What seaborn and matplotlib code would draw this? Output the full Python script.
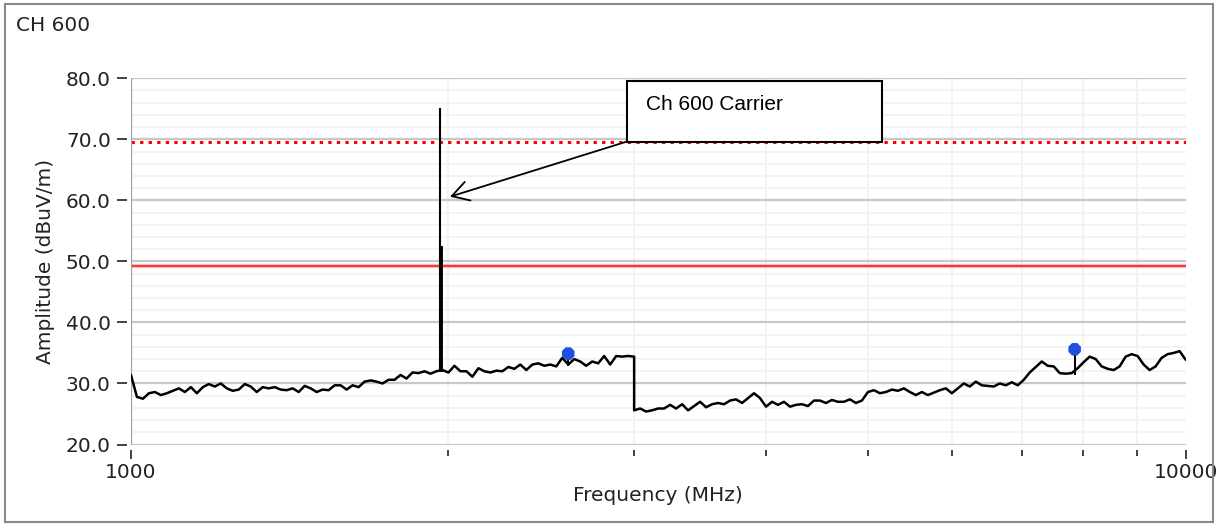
import numpy as np
import pandas as pd
import matplotlib
matplotlib.use('Agg')
import matplotlib.pyplot as plt
import matplotlib.ticker as mticker
from matplotlib.patches import Rectangle
import seaborn as sns

sns.set_style('white')
plt.rcParams['font.family'] = ['DejaVu Sans']

# sweep 1000-3000 MHz (dBuV/m)
low_amp = [31.4, 27.8, 27.5, 28.4, 28.6, 28.1, 28.4, 28.8, 29.2, 28.6,
           29.4, 28.4, 29.4, 29.9, 29.5, 30.0, 29.2, 28.8, 29.0, 29.9,
           29.5, 28.6, 29.4, 29.2, 29.4, 29.0, 28.9, 29.2, 28.6, 29.6,
           29.2, 28.6, 29.0, 28.9, 29.7, 29.7, 29.0, 29.7, 29.4, 30.3,
           30.5, 30.3, 30.0, 30.6, 30.6, 31.4, 30.8, 31.8, 31.7, 32.0,
           31.6, 32.0, 32.2, 31.8, 32.9, 32.0, 32.0, 31.1, 32.5, 32.0,
           31.8, 32.1, 32.0, 32.7, 32.4, 33.1, 32.2, 33.1, 33.3, 32.9,
           33.1, 32.8, 34.2, 33.1, 34.0, 33.6, 32.9, 33.6, 33.3, 34.5,
           33.1, 34.5, 34.4, 34.5, 34.4]
# sweep 3000-10000 MHz
high_amp = [25.6, 25.9, 25.4, 25.6, 25.9, 25.9, 26.5, 25.9, 26.6, 25.6,
            26.3, 27.0, 26.1, 26.6, 26.8, 26.6, 27.2, 27.4, 26.8, 27.6,
            28.4, 27.6, 26.2, 27.0, 26.5, 27.0, 26.2, 26.5, 26.6, 26.3,
            27.2, 27.2, 26.8, 27.3, 27.0, 27.0, 27.4, 26.8, 27.2, 28.6,
            28.9, 28.4, 28.6, 29.0, 28.8, 29.2, 28.6, 28.1, 28.6, 28.1,
            28.5, 28.9, 29.2, 28.4, 29.2, 30.0, 29.5, 30.3, 29.7, 29.6,
            29.5, 30.0, 29.7, 30.2, 29.7, 30.6, 31.8, 32.7, 33.6, 32.9,
            32.8, 31.7, 31.6, 31.7, 32.5, 33.5, 34.4, 34.0, 32.8, 32.4,
            32.2, 32.8, 34.4, 34.8, 34.5, 33.1, 32.2, 32.8, 34.2, 34.8,
            35.0, 35.3, 33.9]

carrier_freq = [1962, 1966]
carrier_base = [31.8, 31.8]
carrier_amp = [75.2, 52.6]

marker_freq = [2598, 7849]
marker_base = [32.8, 31.4]
marker_amp = [34.9, 35.6]

limit_peak = 69.5
limit_avg = 49.3

y_ticks = [20, 30, 40, 50, 60, 70, 80]
x_major = [1000, 10000]
x_minor = [2000, 3000, 4000, 5000, 6000, 7000, 8000, 9000]

low_freq = np.geomspace(1000, 3000, len(low_amp))
high_freq = np.geomspace(3000, 10000, len(high_amp))
trace = pd.DataFrame({
    'Frequency': np.concatenate([low_freq, high_freq]),
    'Amplitude': np.concatenate([low_amp, high_amp]),
})

fig = plt.figure(figsize=(12.17, 5.24), dpi=100)
ax = fig.add_axes([0.1076, 0.1517, 0.8666, 0.6989])
ax.set_xscale('log')

# grid
ax.set_yticks(y_ticks)
ax.yaxis.set_minor_locator(mticker.MultipleLocator(2))
ax.grid(True, which='major', axis='y', color='#C8C8C8', lw=1.6, zorder=0)
ax.grid(True, which='minor', axis='y', color='#F3F3F3', lw=1.4, zorder=0)
ax.xaxis.set_major_locator(mticker.FixedLocator(x_major))
ax.xaxis.set_minor_locator(mticker.FixedLocator(x_minor))
ax.grid(True, which='minor', axis='x', color='#F3F3F3', lw=1.4, zorder=0)

# limit lines
ax.axhline(limit_peak, color='#FF0000', lw=2.2, ls=(0, (1.1, 1.7)),
           dash_capstyle='butt', zorder=2)
ax.axhline(limit_avg, color='#FFC8C8', lw=3.2, zorder=2)
ax.axhline(limit_avg, color='#F03C3C', lw=1.6, zorder=2)

sns.lineplot(data=trace, x='Frequency', y='Amplitude', estimator=None,
             sort=False, color='black', lw=1.8, ax=ax, zorder=3)
ax.vlines(carrier_freq, carrier_base, carrier_amp, colors='black',
          linewidths=[1.5, 2.8], zorder=3)
ax.vlines(marker_freq, marker_base, marker_amp, colors='black',
          linewidths=1.4, zorder=3)
sns.scatterplot(x=marker_freq, y=marker_amp, marker='8', s=95,
                color='#1F4FE0', edgecolor='none', ax=ax, zorder=4)

ax.set_xlim(1000, 10000)
ax.set_ylim(20, 80)

# axes styling
for side in ['top', 'right', 'bottom']:
    ax.spines[side].set_color('none')
ax.spines['bottom'].set_position(('outward', 3.6))
ax.spines['left'].set_position(('outward', 3))
ax.spines['left'].set_color('none')
ax.axvline(1000, color='#A0A0A0', lw=1.6, zorder=2)

ax.xaxis.set_major_formatter(mticker.FuncFormatter(lambda v, p: f'{int(v)}'))
ax.xaxis.set_minor_formatter(mticker.NullFormatter())
ax.yaxis.set_major_formatter(mticker.FormatStrFormatter('%.1f'))
ax.tick_params(axis='x', which='major', direction='out', length=6.5,
               width=1.3, color='#333333', pad=3, labelsize=14.5,
               labelcolor='#222222', bottom=True)
ax.tick_params(axis='x', which='minor', direction='out', length=4,
               width=1.3, color='#333333', bottom=True)
ax.tick_params(axis='y', which='major', direction='out', length=7.5,
               width=1.3, color='#333333', pad=4, labelsize=14.5,
               labelcolor='#222222', left=True)
ax.tick_params(axis='y', which='minor', left=False)

ax.set_xlabel('Frequency (MHz)', fontsize=14.5, color='#222222')
ax.set_ylabel('Amplitude (dBuV/m)', fontsize=14.5, color='#222222')
ax.xaxis.set_label_coords(0.5, -0.112)
ax.yaxis.set_label_coords(-0.072, 0.5)

# callout
ax.add_patch(Rectangle((0.470, 0.827), 0.242, 0.165, transform=ax.transAxes,
                       facecolor='white', edgecolor='black', lw=1.5,
                       clip_on=False, zorder=5))
ax.text(0.488, 0.929, 'Ch 600 Carrier', transform=ax.transAxes,
        family=['Liberation Sans'], fontsize=15, va='center', ha='left',
        color='black', zorder=6)
ax.annotate('', xy=(2007, 60.6), xycoords='data',
            xytext=(0.470, 0.827), textcoords='axes fraction',
            arrowprops=dict(arrowstyle='->,head_length=0.6,head_width=0.35',
                            color='black', lw=1.3, mutation_scale=20,
                            shrinkA=0, shrinkB=0), zorder=6)

fig.text(0.0131, 0.9504, 'CH 600', fontsize=14.5, color='#222222',
         va='center', ha='left')
fig.add_artist(Rectangle((0.0041, 0.0038), 0.9926, 0.9886,
                         transform=fig.transFigure, fill=False,
                         edgecolor='#888888', lw=1.5))

fig.savefig('out.png', dpi=100)
